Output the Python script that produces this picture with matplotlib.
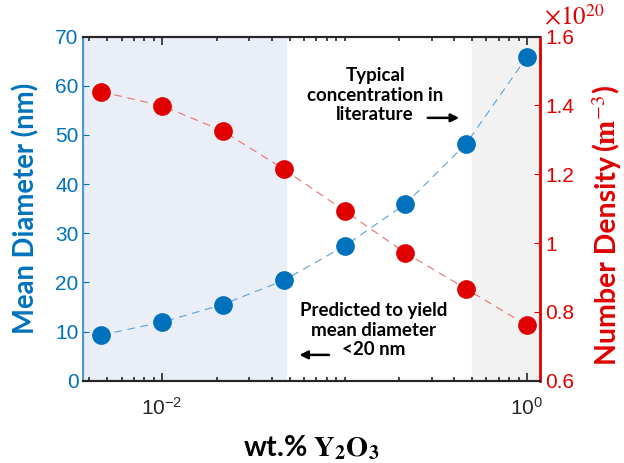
import matplotlib.pyplot as plt
from matplotlib.ticker import FixedLocator, NullFormatter

plt.rcParams['mathtext.fontset'] = 'stix'

# wt.% Y2O3 and the two measured quantities
wt_pct = [0.00464, 0.01, 0.0215, 0.0464, 0.1, 0.215, 0.464, 1.0]
mean_diam = [9.3, 11.9, 15.5, 20.4, 27.4, 35.9, 48.2, 65.9]
num_density = [1.440, 1.399, 1.326, 1.215, 1.094, 0.972, 0.867, 0.761]  # x1e20

blue = '#0072BD'
red = '#E00000'
tick_font = 'Liberation Sans'
label_font = 'Lato'

fig = plt.figure(figsize=(6.24, 4.63), dpi=100)
ax = fig.add_axes([0.1335, 0.1778, 0.732, 0.743])
ax2 = ax.twinx()

ax.set_xscale('log')
ax.set_xlim(0.0037, 1.18)
ax.set_ylim(0, 70)
ax2.set_ylim(0.6, 1.6)

# shaded concentration ranges
ax.axvspan(0.0037, 0.048, color='#E9EEF7', zorder=0)
ax.axvspan(0.5, 1.18, color='#F2F2F2', zorder=0)

ax.plot(wt_pct, mean_diam, ls=(0, (7, 5)), lw=0.8, color='#5BA3D9', zorder=2)
ax.plot(wt_pct, mean_diam, 'o', ms=13.5, color=blue, mec='none', zorder=3)
ax2.plot(wt_pct, num_density, ls=(0, (7, 5)), lw=0.8, color='#F07070', zorder=2)
ax2.plot(wt_pct, num_density, 'o', ms=13.5, color=red, mec='none', zorder=3)

# ticks
minor = [k * 10.0 ** e for e in (-3, -2, -1) for k in range(2, 10)] + [0.1]
ax.xaxis.set_major_locator(FixedLocator([0.01, 1.0]))
ax.xaxis.set_minor_locator(FixedLocator(minor))
ax.xaxis.set_minor_formatter(NullFormatter())
ax.tick_params(axis='x', which='both', direction='in', top=True, colors='#262626',
               labelsize=15, pad=12)
ax.tick_params(axis='x', which='major', length=6, width=1.2)
ax.tick_params(axis='x', which='minor', length=3, width=1.2)
ax.set_yticks(range(0, 71, 10))
ax.tick_params(axis='y', direction='in', colors=blue, labelsize=15, length=4)
ax2.set_yticks([0.6, 0.8, 1.0, 1.2, 1.4, 1.6])
ax2.set_yticklabels(['0.6', '0.8', '1', '1.2', '1.4', '1.6'])
ax2.tick_params(axis='y', direction='in', colors=red, labelsize=15, length=4)
for lbl in ax.get_xticklabels() + ax.get_yticklabels() + ax2.get_yticklabels():
    lbl.set_fontfamily(tick_font)

for a in (ax, ax2):
    a.spines['top'].set_color('#262626')
    a.spines['bottom'].set_color('#262626')
    a.spines['top'].set_linewidth(1.5)
    a.spines['bottom'].set_linewidth(1.5)
ax2.spines['left'].set_color('#4A9BD6')
ax2.spines['left'].set_linewidth(1.5)
ax2.spines['right'].set_color(red)
ax2.spines['right'].set_linewidth(2)

ax.set_ylabel('Mean Diameter (nm)', color=blue, fontsize=19.8, fontweight='bold',
              family=label_font, labelpad=11)
ax.set_xlabel(r'wt.% $\mathbf{Y_2O_3}$', fontsize=20.5, fontweight='bold',
              family=label_font, labelpad=10)

# right axis label in two pieces so the unit can be set larger
name = ax2.text(1.166, 0.046, 'Number Density', transform=ax2.transAxes, rotation=90,
                rotation_mode='anchor', ha='left', va='baseline', color=red,
                fontsize=20.5, fontweight='bold', family=label_font)
fig.canvas.draw()
top_px = name.get_window_extent().y1
unit_y = ax2.transAxes.inverted().transform((0, top_px + 4))[1]
ax2.text(1.166, unit_y, r'($\mathbf{m}^{-3}$)', transform=ax2.transAxes, rotation=90,
         rotation_mode='anchor', ha='left', va='baseline', color=red, fontsize=21,
         fontweight='bold', family=label_font)
ax2.text(1.008, 1.02, r'$\times10^{20}$', transform=ax2.transAxes, color=red,
         fontsize=18, family=tick_font, ha='left', va='bottom')

# annotations
ax2.text(0.639, 0.83, 'Typical\nconcentration in\nliterature', transform=ax2.transAxes,
         ha='center', va='center', fontsize=13.5, fontweight='bold', family=label_font,
         linespacing=1.2)
ax2.annotate('', xy=(0.829, 0.764), xytext=(0.748, 0.764), xycoords='axes fraction',
             arrowprops=dict(arrowstyle='-|>', color='black', lw=1.8, mutation_scale=12))
ax2.text(0.635, 0.147, 'Predicted to yield\nmean diameter\n<20 nm', transform=ax2.transAxes,
         ha='center', va='center', fontsize=13.5, fontweight='bold', family=label_font,
         linespacing=1.2)
ax2.annotate('', xy=(0.467, 0.075), xytext=(0.544, 0.075), xycoords='axes fraction',
             arrowprops=dict(arrowstyle='-|>', color='black', lw=1.8, mutation_scale=12))

fig.savefig('out.png', dpi=100)
